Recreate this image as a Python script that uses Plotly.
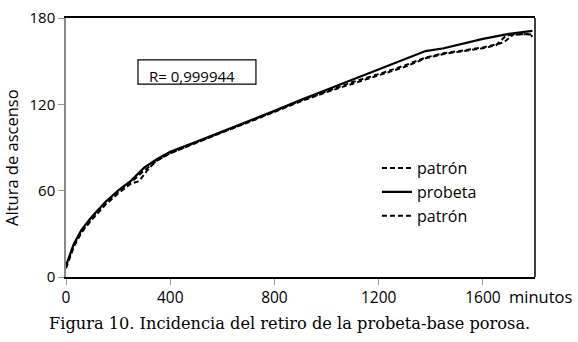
import plotly.graph_objects as go

# Data (minutes, height)
probeta_x = [0, 10, 30, 60, 100, 150, 200, 250, 300, 350, 400, 500, 600, 700, 800, 900, 1000, 1100, 1200, 1300, 1380, 1450, 1525, 1600, 1700, 1790]
probeta_y = [8, 13, 23, 33, 42, 52, 60, 67, 76, 82, 87, 94, 101, 108, 115.5, 123, 130, 137, 144, 151, 157, 159, 162.5, 165.5, 169, 171]

patron1_x = [0, 10, 30, 60, 100, 150, 200, 250, 280, 320, 350, 400, 500, 600, 700, 800, 900, 1000, 1100, 1200, 1300, 1380, 1450, 1525, 1600, 1650, 1690, 1780, 1790]
patron1_y = [6, 11, 21, 31, 40, 50, 58, 65, 66.5, 76, 81, 86, 93.5, 100.5, 107.5, 115, 122, 128.5, 134.5, 140, 146, 152, 155, 157, 159, 161, 168, 169, 167]

patron2_x = [0, 10, 30, 60, 100, 150, 200, 250, 300, 350, 400, 500, 600, 700, 800, 900, 1000, 1100, 1200, 1300, 1380, 1450, 1525, 1600, 1680, 1720, 1790]
patron2_y = [7, 12, 22, 32, 41, 51, 59, 66, 74, 81, 86, 93.5, 100.5, 107.5, 115, 122.5, 129, 135.5, 141, 147, 152.5, 155.5, 157.5, 159.5, 163, 169, 168.5]

x_ticks = [0, 400, 800, 1200, 1600]
y_ticks = [0, 60, 120, 180]

DASH = "5px,3px"

fig = go.Figure()
fig.add_trace(go.Scatter(x=patron1_x, y=patron1_y, mode="lines", name="patrón",
                         line=dict(color="black", width=2, dash=DASH)))
fig.add_trace(go.Scatter(x=probeta_x, y=probeta_y, mode="lines", name="probeta",
                         line=dict(color="black", width=2.2)))
fig.add_trace(go.Scatter(x=patron2_x, y=patron2_y, mode="lines", name="patrón",
                         line=dict(color="black", width=2, dash=DASH)))

fig.update_layout(
    width=578, height=342,
    margin=dict(l=66, r=43, t=18, b=65, autoexpand=False),
    paper_bgcolor="white", plot_bgcolor="white",
    font=dict(family="Open Sans", color="black", size=15),
    showlegend=True,
    legend=dict(x=0.663, y=0.486, xanchor="left", yanchor="top",
                bgcolor="rgba(0,0,0,0)", font=dict(size=16, family="Open Sans"),
                tracegroupgap=0, itemwidth=30),
    xaxis=dict(range=[0, 1800], tickvals=x_ticks, showgrid=False, zeroline=False,
               showline=True, linecolor="black", linewidth=1.5, mirror=True,
               ticks="outside", ticklen=6, tickcolor="#999999",
               tickfont=dict(size=15.5), automargin=False),
    yaxis=dict(range=[0, 180], tickvals=y_ticks, showgrid=False, zeroline=False,
               showline=True, linecolor="#888888", linewidth=1.5,
               ticks="outside", ticklen=6, tickcolor="#999999",
               tickfont=dict(size=15), automargin=False),
)

# right border of plot area
fig.add_shape(type="line", xref="paper", yref="paper", x0=1, x1=1, y0=0, y1=1,
              line=dict(color="black", width=1.5))
# R box
fig.add_shape(type="rect", xref="paper", yref="paper", x0=0.1535, x1=0.405, y0=0.745, y1=0.838,
              line=dict(color="black", width=1.2), fillcolor="white")
fig.add_annotation(text="R= 0,999944", xref="paper", yref="paper", x=0.172, y=0.776,
                   xanchor="left", yanchor="middle", showarrow=False, font=dict(size=15))
fig.add_annotation(text="Altura de ascenso", xref="paper", yref="paper", x=-0.115, y=0.46,
                   xanchor="center", yanchor="middle", textangle=-90, showarrow=False,
                   font=dict(size=16.5))
fig.add_annotation(text="minutos", xref="paper", yref="paper", x=1.0107, y=-0.077,
                   xanchor="center", yanchor="middle", showarrow=False, font=dict(size=16.5))
fig.add_annotation(text="Figura 10. Incidencia del retiro de la probeta-base porosa.",
                   xref="paper", yref="paper", x=0.4766, y=-0.178, xanchor="center", yanchor="middle",
                   showarrow=False, font=dict(size=16.2, family="DejaVu Serif"))

fig.write_html("out.html", config={"displayModeBar": False},
               post_script="document.body.style.margin='0px';document.body.style.overflow='hidden';")
